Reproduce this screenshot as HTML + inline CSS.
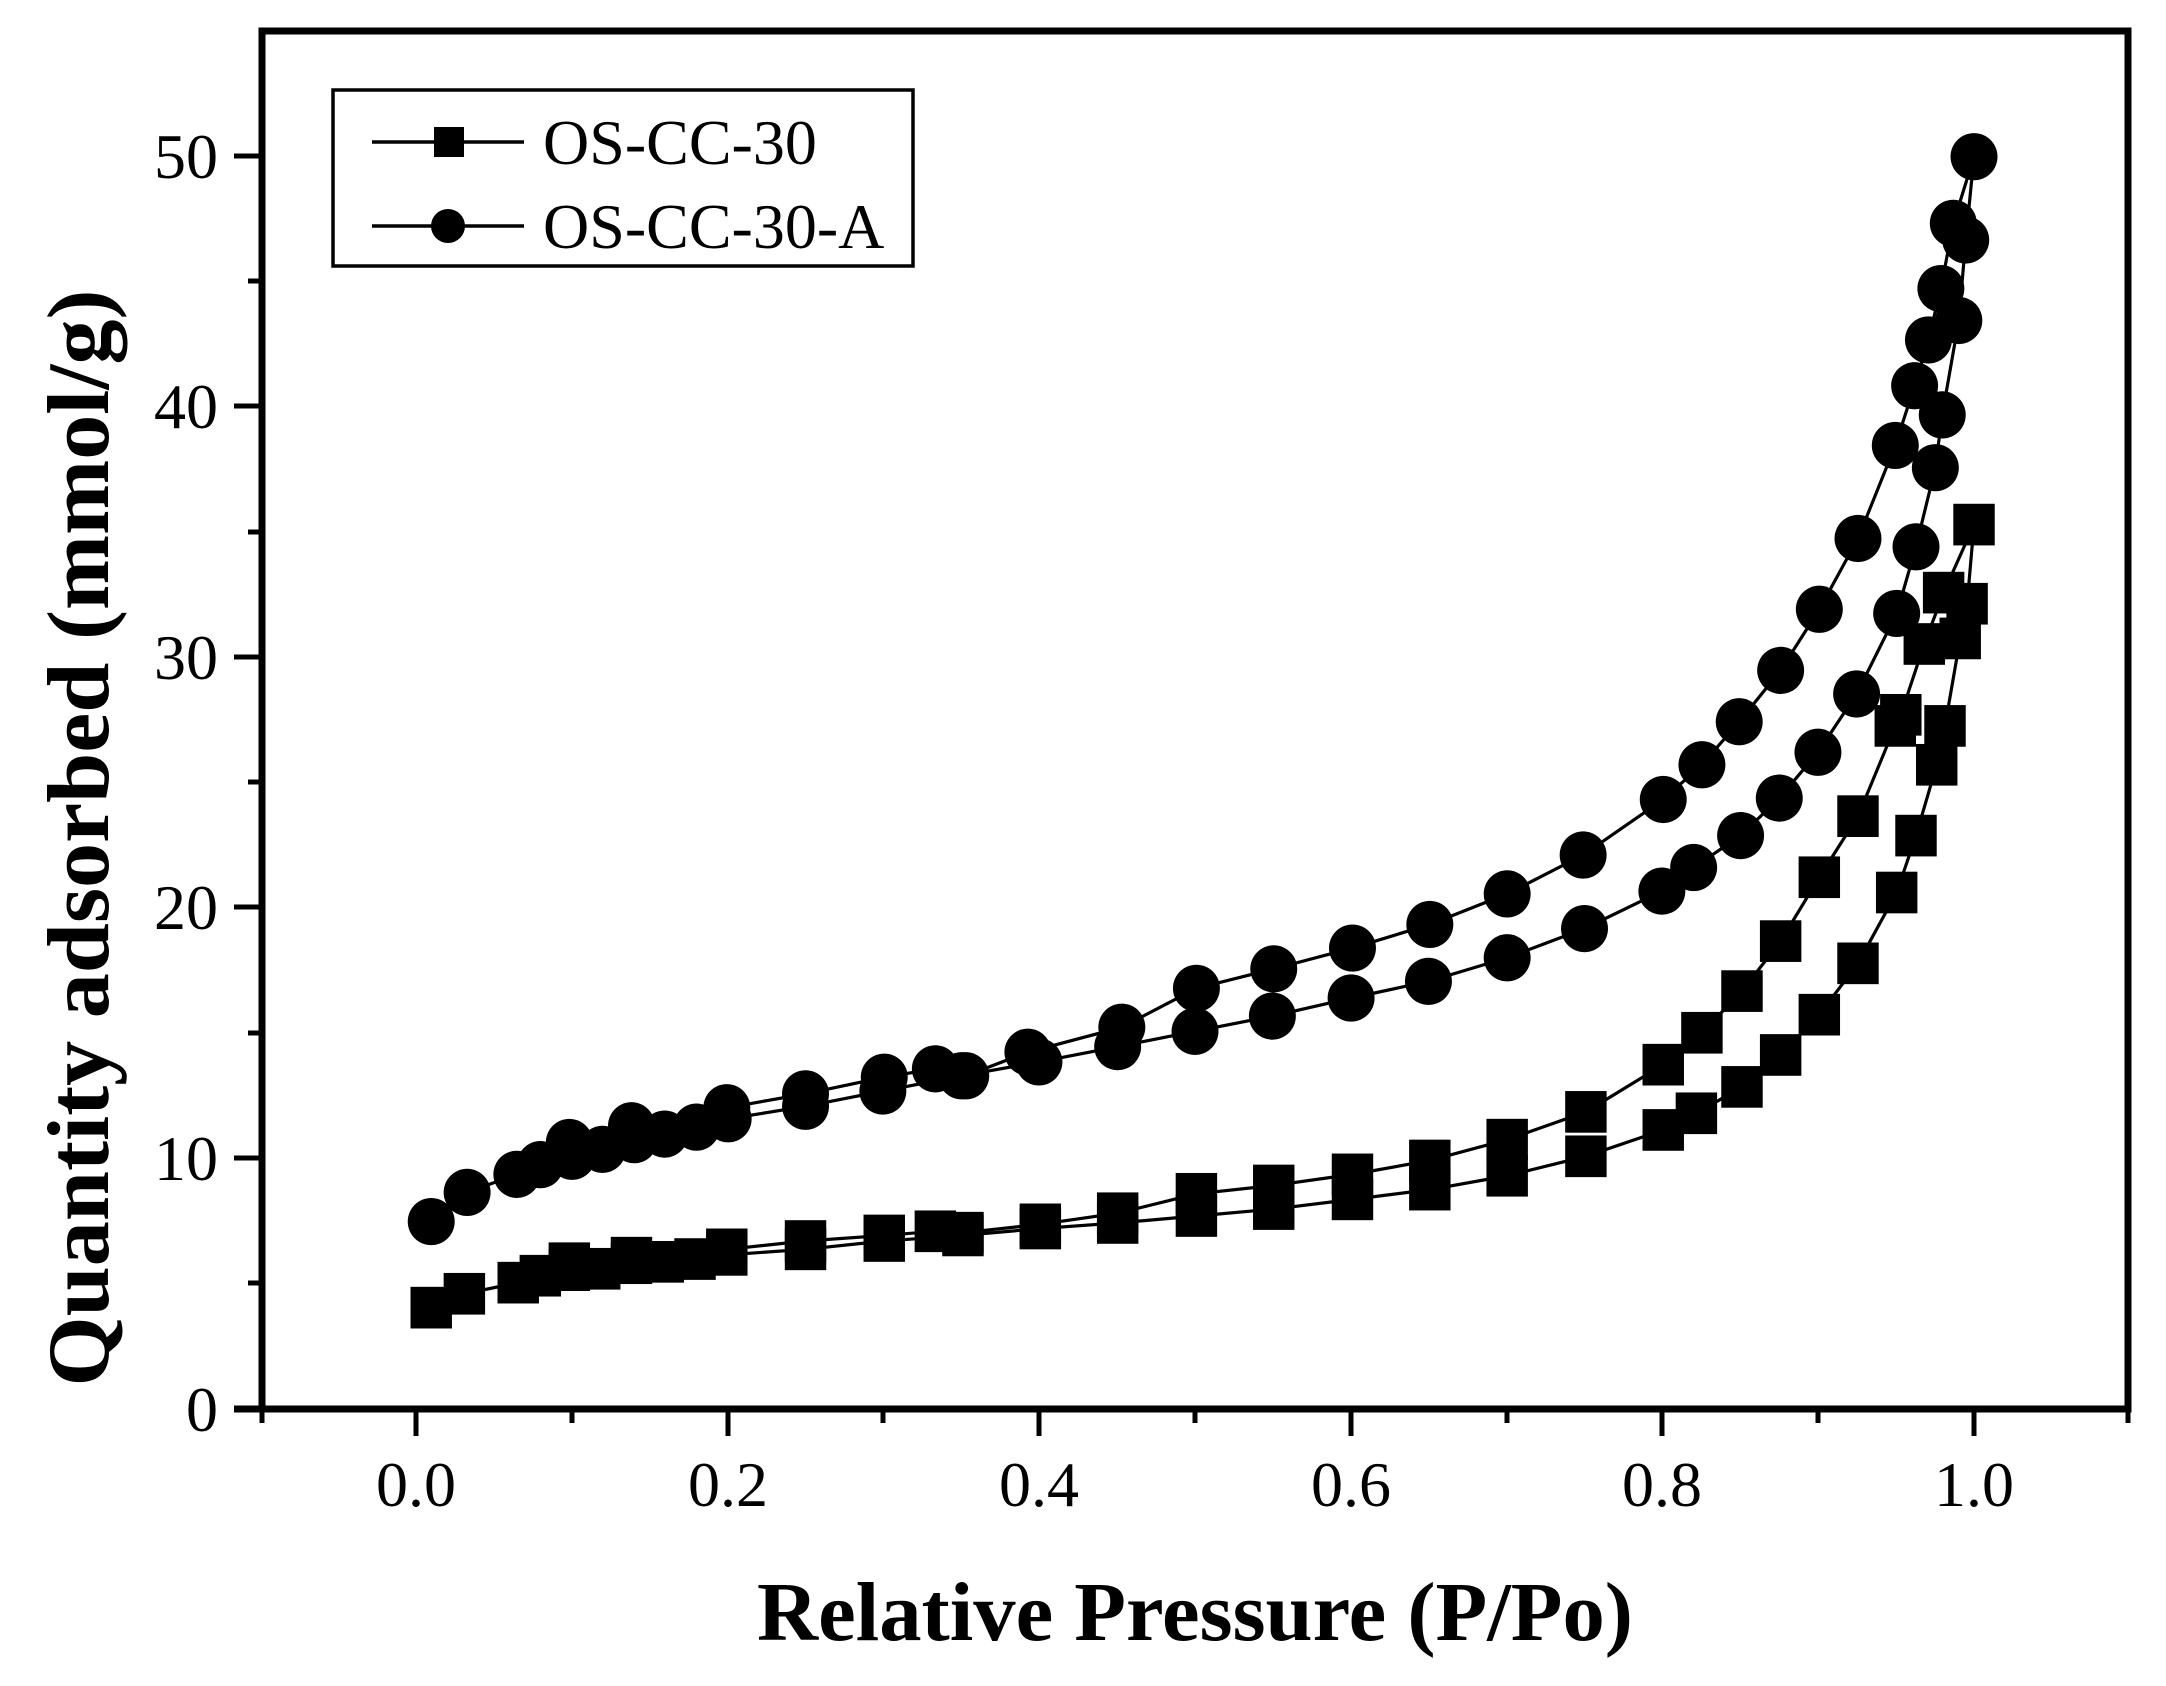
<!DOCTYPE html>
<html><head><meta charset="utf-8"><style>html,body{margin:0;padding:0;background:#fff}svg{display:block}</style></head>
<body>
<svg width="2166" height="1686" viewBox="0 0 2166 1686" xmlns="http://www.w3.org/2000/svg" font-family="Liberation Serif, serif">
<defs>
<marker id="sq" markerUnits="userSpaceOnUse" markerWidth="30" markerHeight="30" refX="15" refY="15" viewBox="0 0 30 30" overflow="visible"><rect x="0" y="0" width="30" height="30" fill="#000"/></marker>
<marker id="ci" markerUnits="userSpaceOnUse" markerWidth="36" markerHeight="36" refX="18" refY="18" viewBox="0 0 36 36" overflow="visible"><circle cx="18" cy="18" r="17" fill="#000"/></marker>
</defs>
<rect width="2166" height="1686" fill="#fff"/>
<rect x="262" y="31" width="1866" height="1378" fill="none" stroke="#000" stroke-width="7"/>
<line x1="234" y1="1409" x2="2131" y2="1409" stroke="#000" stroke-width="7"/>
<g stroke="#000" stroke-width="5">
<line x1="416" y1="1409" x2="416" y2="1436"/><line x1="728" y1="1409" x2="728" y2="1436"/><line x1="1039" y1="1409" x2="1039" y2="1436"/><line x1="1351" y1="1409" x2="1351" y2="1436"/><line x1="1662" y1="1409" x2="1662" y2="1436"/><line x1="1974" y1="1409" x2="1974" y2="1436"/>
<line x1="262" y1="1409" x2="262" y2="1423"/><line x1="572" y1="1409" x2="572" y2="1423"/><line x1="883" y1="1409" x2="883" y2="1423"/><line x1="1195" y1="1409" x2="1195" y2="1423"/><line x1="1507" y1="1409" x2="1507" y2="1423"/><line x1="1818" y1="1409" x2="1818" y2="1423"/><line x1="2128" y1="1409" x2="2128" y2="1423"/>
<line x1="234" y1="1409" x2="262" y2="1409"/><line x1="234" y1="1158" x2="262" y2="1158"/><line x1="234" y1="907" x2="262" y2="907"/><line x1="234" y1="657" x2="262" y2="657"/><line x1="234" y1="406" x2="262" y2="406"/><line x1="234" y1="156" x2="262" y2="156"/>
<line x1="248" y1="1283" x2="262" y2="1283"/><line x1="248" y1="1033" x2="262" y2="1033"/><line x1="248" y1="782" x2="262" y2="782"/><line x1="248" y1="532" x2="262" y2="532"/><line x1="248" y1="281" x2="262" y2="281"/>
</g>
<g font-size="64" text-anchor="middle">
<text x="416" y="1506">0.0</text><text x="728" y="1506">0.2</text><text x="1039" y="1506">0.4</text><text x="1351" y="1506">0.6</text><text x="1662" y="1506">0.8</text><text x="1974" y="1506">1.0</text>
</g>
<g font-size="64" text-anchor="end">
<text x="218" y="1431">0</text><text x="218" y="1180">10</text><text x="218" y="929">20</text><text x="218" y="679">30</text><text x="218" y="428">40</text><text x="218" y="178">50</text>
</g>
<text x="1195" y="1640" font-size="84" font-weight="bold" text-anchor="middle" textLength="876" lengthAdjust="spacingAndGlyphs">Relative Pressure (P/Po)</text>
<text transform="translate(108,838) rotate(-90)" font-size="88" font-weight="bold" text-anchor="middle" textLength="1097" lengthAdjust="spacingAndGlyphs">Quantity adsorbed (mmol/g)</text>
<rect x="333" y="90" width="580" height="176" fill="none" stroke="#000" stroke-width="3.5"/>
<line x1="372" y1="142" x2="524" y2="142" stroke="#000" stroke-width="3.5"/>
<rect x="434" y="127" width="30" height="30" fill="#000"/>
<line x1="372" y1="226" x2="524" y2="226" stroke="#000" stroke-width="3.5"/>
<circle cx="448" cy="226" r="17" fill="#000"/>
<text x="543" y="164" font-size="64">OS-CC-30</text>
<text x="543" y="248" font-size="64">OS-CC-30-A</text>
<g transform="matrix(1.3812 0 0 1.3884 -1.1 -3)" fill="none" stroke="#000" stroke-width="2.3">
<polyline marker-start="url(#ci)" marker-mid="url(#ci)" marker-end="url(#ci)" points="313,882 339,861 375,848 392,841 415,835 437,830 460,823 482,819 505,814 528,808 584,799 640,788 697,777 753,767 810,756 866,745 922,734 979,721 1035,709 1092,692 1148,671 1204,644 1227,627 1261,604 1289,577 1317,544 1345,502 1374,444 1388,396 1402,339 1407,301 1419,233 1424,175 1430,115 1415,163 1406,210 1397,247 1387,280 1373,323 1346,390 1318,441 1290,485 1260,522 1233,553 1205,578 1147,618 1092,646 1036,668 980,685 923,700 867,714 813,742 745,760 700,777 678,772 641,778 584,790 527,800 458,813 413,825"/>
<polyline marker-start="url(#sq)" marker-mid="url(#sq)" marker-end="url(#sq)" points="313,944 337,934 376,926 392,921 413,917 435,916 458,912 481,911 504,909 527,906 584,902 641,896 698,892 754,887 810,883 867,878 923,873 980,866 1036,859 1092,849 1149,835 1205,816 1229,804 1262,785 1290,762 1318,733 1346,696 1374,645 1388,604 1403,553 1409,525 1420,462 1425,437 1430,380 1408,429 1394,466 1377,517 1373,525 1346,590 1318,634 1290,680 1262,716 1233,746 1205,769 1149,803 1092,823 1036,838 980,848 923,856 867,862 810,876 754,884 698,890 678,889 641,892 584,896 527,902 458,908 413,912"/>
</g>
</svg>
</body></html>
